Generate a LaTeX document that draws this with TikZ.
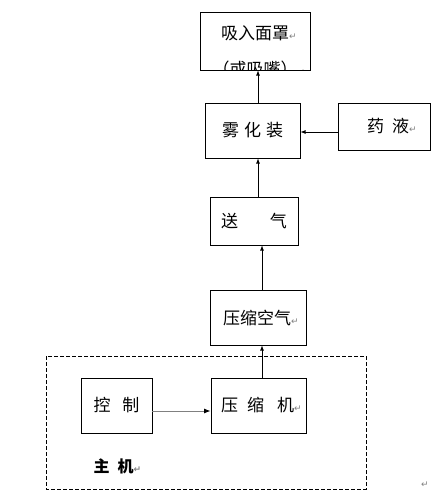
\documentclass[tikz,border=0pt]{standalone}
\usepackage{fontspec}
\usetikzlibrary{arrows.meta}
\setmainfont{Noto Sans CJK SC}
\newfontfamily\markfont{DejaVu Sans}
\newcommand{\ret}{{\markfont\fontsize{9}{9}\selectfont\color{gray}↵}}
\tikzset{
  box/.style={draw, thick, inner sep=0pt, font=\fontsize{17}{19}\selectfont},
}
\begin{document}
\begin{tikzpicture}[>=latex, x=1pt, y=-1pt]
  \useasboundingbox (0,0) rectangle (431,494);
  % boxes
  \node [box, minimum width=110, minimum height=58] (mask) at (255,41) {};
  \node [font=\fontsize{17}{19}\selectfont] (masktxt) at (259,33) {吸入面罩\ret};
  \begin{scope}
    \clip (200,12) rectangle (310,70);
    \node [font=\fontsize{17}{19}\selectfont] (masktxt2) at (259,69) {（或吸嘴）\ret};
  \end{scope}
  \node [box, minimum width=95, minimum height=55] (atom) at (252.5,130.5) {雾\hspace{5pt}化\hspace{5pt}装};
  \node [box, minimum width=92, minimum height=47] (liquid) at (384,126.5) {\hspace{16pt}药\hspace{8pt}液\ret};
  \node [box, minimum width=88, minimum height=48] (send) at (254,221) {送\hspace{32pt}气};
  \node [box, minimum width=96, minimum height=55] (air) at (258,317.5) {\hspace{6pt}压缩空气\ret};
  \node [box, minimum width=95, minimum height=55] (comp) at (258.5,405.5) {\hspace{6pt}压\hspace{9pt}缩\hspace{13pt}机\ret};
  \node [box, minimum width=71, minimum height=55] (ctrl) at (116.5,405.5) {控\hspace{12pt}制};
  % host frame
  \draw [thick, dash pattern=on 4pt off 2pt] (46,356) rectangle (366,489);
  \node [font=\fontsize{16}{18}\selectfont\bfseries, anchor=west] (host) at (90,466) {主\hspace{8pt}机\ret};
  \node (endmark) at (425,485) {\ret};
  % arrows
  \draw [thick, ->] (comp.north -| 262,0) -- (air.south -| 262,0);
  \draw [thick, ->] (air.north -| 262,0) -- (send.south -| 262,0);
  \draw [thick, ->] (send.north -| 258,0) -- (atom.south -| 258,0);
  \draw [thick, ->] (atom.north -| 258,0) -- (mask.south -| 258,0);
  \draw [thick, ->] (liquid.west |- 0,132) -- (atom.east |- 0,132);
  \draw [thick, gray, -{Latex[black]}] (ctrl.east |- 0,411) -- (comp.west |- 0,411);
\end{tikzpicture}
\end{document}
